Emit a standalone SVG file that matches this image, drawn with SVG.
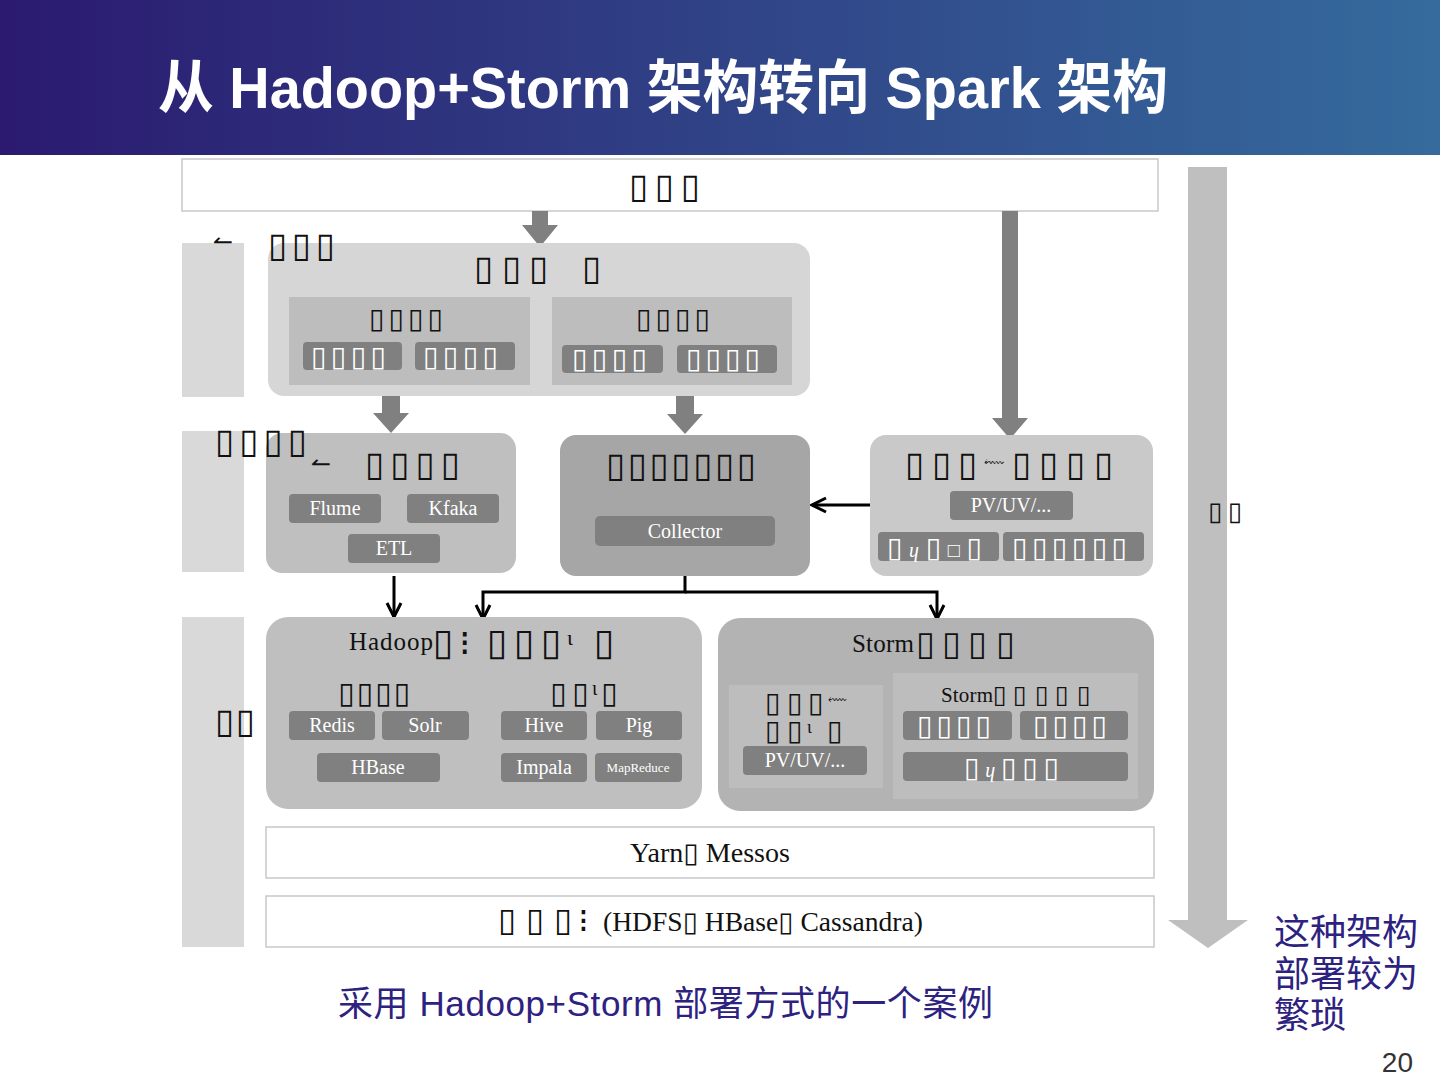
<svg xmlns="http://www.w3.org/2000/svg" width="1440" height="1080" viewBox="0 0 1440 1080">
<defs>
  <linearGradient id="hdr" x1="0" y1="0" x2="1" y2="0">
    <stop offset="0" stop-color="#2b1a70"/>
    <stop offset="1" stop-color="#356b9d"/>
  </linearGradient>
  <marker id="vhead" viewBox="0 0 20 20" refX="18" refY="10" markerWidth="20" markerHeight="20" markerUnits="userSpaceOnUse" orient="auto">
    <path d="M4,3 L18,10 L4,17" fill="none" stroke="#000" stroke-width="3"/>
  </marker>
</defs>
<style>
  .t { font-family: "Liberation Serif", "DejaVu Sans", serif; fill: #111; }
  .w { font-family: "Liberation Serif", "DejaVu Sans", serif; fill: #fff; }
  .c { text-anchor: middle; }
  .btn { fill: #808080; }
  .wbox { fill: #fff; stroke: #c8c8c8; stroke-width: 1.5; }
  .side { fill: #d9d9d9; }
  .blk { fill: #808080; }
  .con { fill: none; stroke: #000; stroke-width: 3; }
  .cn { font-family: "Liberation Sans", "Noto Sans CJK SC", sans-serif; fill: #2d2280; }
</style>
<rect x="0" y="0" width="1440" height="1080" fill="#fff"/>
<g id="header">
  <rect x="0" y="0" width="1440" height="155" fill="url(#hdr)"/>
  <text x="158" y="108" font-family="Liberation Sans, Noto Sans CJK SC, sans-serif" font-weight="bold" font-size="58" fill="#fff" textLength="1010" lengthAdjust="spacingAndGlyphs">从 Hadoop+Storm 架构转向 Spark 架构</text>
</g>

<g id="side-bars">
  <rect class="side" x="182" y="243" width="62" height="154"/>
  <rect class="side" x="182" y="431" width="62" height="141"/>
  <rect class="side" x="182" y="617" width="62" height="330"/>
</g>

<g id="flow-arrow">
  <path d="M1188,167 H1227 V920 H1248 L1208,948 L1168,920 H1188 Z" fill="#bfbfbf"/>
  <text class="t" x="1208" y="520" style="font-size:26px" textLength="34">▯▯</text>
</g>

<g id="user-layer">
  <rect class="wbox" x="182" y="159" width="976" height="52"/>
  <text class="t" x="629" y="198" style="font-size:35px" textLength="71">▯▯▯</text>
</g>

<g id="block-arrows">
  <path class="blk" d="M532,211 H548 V225 H558 L540,247 L522,225 H532 Z"/>
  <path class="blk" d="M1002,211 H1018 V418 H1028 L1010,439 L992,418 H1002 Z"/>
  <path class="blk" d="M382,396 H400 V413 H409 L391,433 L373,413 H382 Z"/>
  <path class="blk" d="M676,396 H694 V414 H703 L685,434 L667,414 H676 Z"/>
</g>

<g id="app-box">
  <rect x="268" y="243" width="542" height="153" rx="16" fill="#d6d6d6"/>
  <text class="t" x="474 502 529 582" y="280" style="font-size:35px">▯▯▯▯</text>
  <rect x="289" y="297" width="241" height="88" fill="#bdbdbd"/>
  <text class="t" x="369" y="328" style="font-size:28px" textLength="74">▯▯▯▯</text>
  <rect class="btn" x="303" y="342" width="99" height="28" rx="4"/>
  <text class="w" x="311" y="366" style="font-size:28px" textLength="75">▯▯▯▯</text>
  <rect class="btn" x="415" y="342" width="100" height="28" rx="4"/>
  <text class="w" x="423" y="366" style="font-size:28px" textLength="75">▯▯▯▯</text>
  <rect x="552" y="297" width="240" height="88" fill="#bdbdbd"/>
  <text class="t" x="636" y="328" style="font-size:28px" textLength="74">▯▯▯▯</text>
  <rect class="btn" x="562" y="345" width="101" height="28" rx="4"/>
  <text class="w" x="572" y="368" style="font-size:28px" textLength="75">▯▯▯▯</text>
  <rect class="btn" x="677" y="345" width="100" height="28" rx="4"/>
  <text class="w" x="686" y="368" style="font-size:28px" textLength="74">▯▯▯▯</text>
</g>

<g id="collect-box">
  <rect x="266" y="433" width="250" height="140" rx="16" fill="#bfbfbf"/>
  <text class="t" x="311" y="472" style="font-size:24px">↼</text>
  <text class="t" x="365" y="476" style="font-size:35px" textLength="95">▯▯▯▯</text>
  <rect class="btn" x="289" y="494" width="92" height="29" rx="4"/>
  <text class="w c" x="335" y="515" style="font-size:20px">Flume</text>
  <rect class="btn" x="407" y="494" width="92" height="29" rx="4"/>
  <text class="w c" x="453" y="515" style="font-size:20px">Kfaka</text>
  <rect class="btn" x="348" y="534" width="92" height="29" rx="4"/>
  <text class="w c" x="394" y="555" style="font-size:20px">ETL</text>
</g>

<g id="collector-box">
  <rect x="560" y="435" width="250" height="141" rx="16" fill="#a6a6a6"/>
  <text class="t" x="606" y="477" style="font-size:35px" textLength="150">▯▯▯▯▯▯▯</text>
  <rect class="btn" x="595" y="516" width="180" height="30" rx="5"/>
  <text class="w c" x="685" y="538" style="font-size:20px">Collector</text>
</g>

<g id="realtime-box">
  <rect x="870" y="435" width="283" height="141" rx="16" fill="#c9c9c9"/>
  <text class="t" x="905 932 958" y="476" style="font-size:35px">▯▯▯</text>
  <text class="t" x="984" y="467" style="font-size:14px">⬳</text>
  <text class="t" x="1012 1039 1066 1094" y="476" style="font-size:35px">▯▯▯▯</text>
  <rect class="btn" x="950" y="491" width="123" height="29" rx="4"/>
  <text class="w c" x="1011" y="512" style="font-size:20px">PV/UV/...</text>
  <rect class="btn" x="878" y="532" width="121" height="29" rx="4"/>
  <text class="w" x="887" y="557" style="font-size:28px" textLength="95">▯<tspan style="font-size:20px;font-style:italic">ɥ</tspan>▯<tspan style="font-size:20px">□</tspan>▯</text>
  <rect class="btn" x="1003" y="532" width="141" height="29" rx="4"/>
  <text class="w" x="1012" y="557" style="font-size:28px" textLength="115">▯▯▯▯▯▯</text>
</g>

<g id="connectors">
  <line class="con" x1="870" y1="505" x2="812" y2="505" marker-end="url(#vhead)"/>
  <line class="con" x1="394" y1="576" x2="394" y2="617" marker-end="url(#vhead)"/>
  <polyline class="con" points="685,576 685,592 483,592 483,619" marker-end="url(#vhead)"/>
  <polyline class="con" points="685,592 937,592 937,619" marker-end="url(#vhead)"/>
</g>

<g id="hadoop-box">
  <rect x="266" y="617" width="436" height="192" rx="22" fill="#bfbfbf"/>
  <text class="t" x="349" y="650" style="font-size:25px" textLength="84">Hadoop</text>
  <text class="t" x="433" y="655" style="font-size:37px">▯</text>
  <text class="t" x="459" y="655" style="font-size:36px">⁝</text>
  <text class="t" x="487 514 541" y="655" style="font-size:37px">▯▯▯</text>
  <text class="t" x="567" y="645" style="font-size:22px">ɩ</text>
  <text class="t" x="594" y="655" style="font-size:37px">▯</text>
  <text class="t" x="338" y="703" style="font-size:30px" textLength="72">▯▯▯▯</text>
  <text class="t" x="550 572" y="703" style="font-size:30px">▯▯</text>
  <text class="t" x="592" y="695" style="font-size:20px">ɩ</text>
  <text class="t" x="601" y="703" style="font-size:30px">▯</text>
  <rect class="btn" x="289" y="711" width="86" height="29" rx="4"/>
  <text class="w c" x="332" y="732" style="font-size:20px">Redis</text>
  <rect class="btn" x="382" y="711" width="87" height="29" rx="4"/>
  <text class="w c" x="425" y="732" style="font-size:20px">Solr</text>
  <rect class="btn" x="317" y="753" width="123" height="29" rx="4"/>
  <text class="w c" x="378" y="774" style="font-size:20px">HBase</text>
  <rect class="btn" x="501" y="711" width="86" height="29" rx="4"/>
  <text class="w c" x="544" y="732" style="font-size:20px">Hive</text>
  <rect class="btn" x="596" y="711" width="86" height="29" rx="4"/>
  <text class="w c" x="639" y="732" style="font-size:20px">Pig</text>
  <rect class="btn" x="501" y="753" width="86" height="29" rx="4"/>
  <text class="w c" x="544" y="774" style="font-size:20px">Impala</text>
  <rect class="btn" x="595" y="753" width="87" height="29" rx="4"/>
  <text class="w c" x="638" y="772" style="font-size:13px">MapReduce</text>
</g>

<g id="storm-box">
  <rect x="718" y="618" width="436" height="193" rx="22" fill="#b3b3b3"/>
  <text class="t" x="852" y="652" style="font-size:25px" textLength="62">Storm</text>
  <text class="t" x="916 942 968 996" y="655" style="font-size:34px">▯▯▯▯</text>
  <rect x="729" y="685" width="154" height="103" fill="#bdbdbd"/>
  <text class="t" x="765 787 808" y="712" style="font-size:28px">▯▯▯</text>
  <text class="t" x="828" y="704" style="font-size:13px">⬳</text>
  <text class="t" x="765 787" y="740" style="font-size:28px">▯▯</text>
  <text class="t" x="807" y="733" style="font-size:18px">ɩ</text>
  <text class="t" x="827" y="740" style="font-size:28px">▯</text>
  <rect class="btn" x="743" y="746" width="124" height="29" rx="4"/>
  <text class="w c" x="805" y="767" style="font-size:20px">PV/UV/...</text>
  <rect x="893" y="673" width="245" height="126" fill="#bdbdbd"/>
  <text class="t" x="941" y="702" style="font-size:21px" textLength="52">Storm</text>
  <text class="t" x="993 1013 1035 1055 1077" y="703" style="font-size:25px">▯▯▯▯▯</text>
  <rect class="btn" x="903" y="711" width="109" height="29" rx="4"/>
  <text class="w" x="917" y="735" style="font-size:28px" textLength="74">▯▯▯▯</text>
  <rect class="btn" x="1020" y="711" width="108" height="29" rx="4"/>
  <text class="w" x="1033" y="735" style="font-size:28px" textLength="74">▯▯▯▯</text>
  <rect class="btn" x="903" y="752" width="225" height="29" rx="4"/>
  <text class="w" x="964" y="777" style="font-size:28px" textLength="95">▯<tspan style="font-size:20px;font-style:italic">ɥ</tspan>▯▯▯</text>
</g>

<g id="yarn-box">
  <rect class="wbox" x="266" y="827" width="888" height="51"/>
  <text class="t" x="630" y="862" style="font-size:27px" textLength="160" lengthAdjust="spacingAndGlyphs">Yarn▯ Messos</text>
</g>

<g id="storage-box">
  <rect class="wbox" x="266" y="896" width="888" height="51"/>
  <text class="t" x="498 526 554" y="931" style="font-size:33px">▯▯▯</text>
  <text class="t" x="578" y="932" style="font-size:34px">⁝</text>
  <text class="t" x="603" y="931" style="font-size:27px" textLength="320" lengthAdjust="spacingAndGlyphs">(HDFS▯ HBase▯ Cassandra)</text>
</g>

<g id="layer-labels">
  <text class="t" x="213" y="250" style="font-size:24px">↼</text>
  <text class="t" x="268" y="257" style="font-size:35px" textLength="67">▯▯▯</text>
  <text class="t" x="215" y="453" style="font-size:35px" textLength="92">▯▯▯▯</text>
  <text class="t" x="215" y="733" style="font-size:35px" textLength="40">▯▯</text>
</g>

<g id="captions">
  <text class="cn" x="338" y="1016" style="font-size:35px" textLength="655">采用 Hadoop+Storm 部署方式的一个案例</text>
  <text class="cn" x="1274" y="945" style="font-size:36px">这种架构</text>
  <text class="cn" x="1274" y="987" style="font-size:36px">部署较为</text>
  <text class="cn" x="1274" y="1028" style="font-size:36px">繁琐</text>
  <text x="1413" y="1072" font-family="Liberation Sans, sans-serif" font-size="28" fill="#333" text-anchor="end">20</text>
</g>
</svg>
